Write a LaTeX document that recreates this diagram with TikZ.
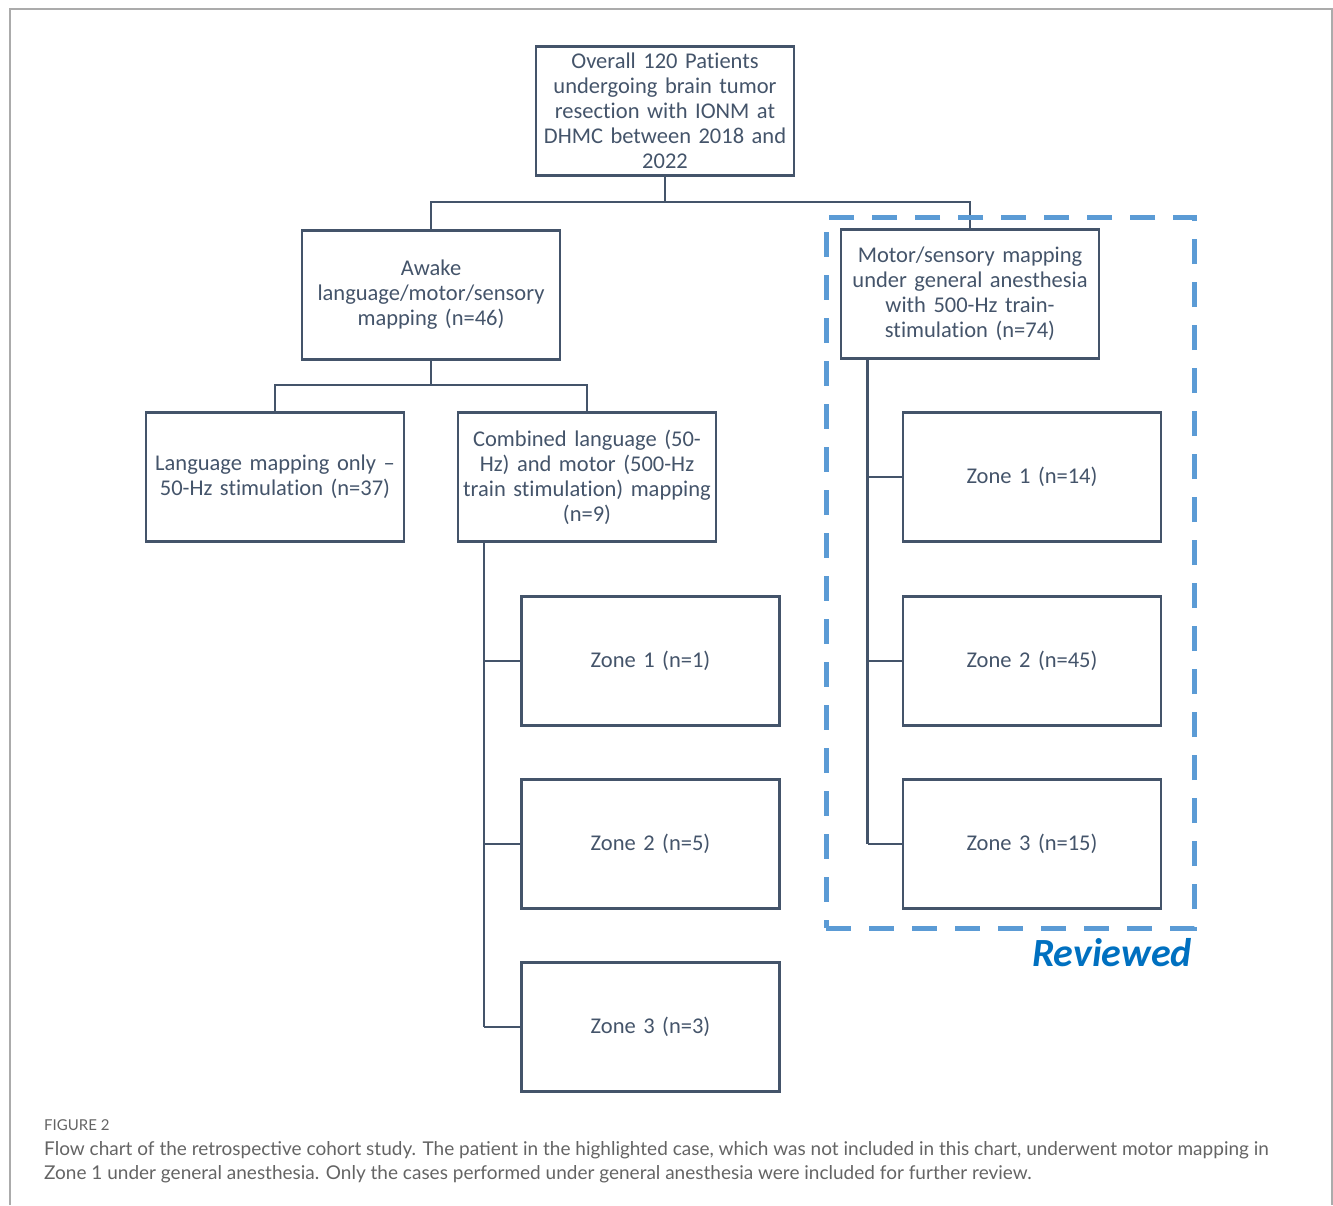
\documentclass[tikz,border=0pt]{standalone}
\usepackage{fontspec}
\setmainfont{Carlito}[Ligatures=NoCommon]
\newfontfamily\capfont{Lato}
\definecolor{linec}{HTML}{44546A}
\definecolor{dashc}{HTML}{5B9BD5}
\definecolor{revc}{HTML}{0070C0}
\definecolor{capc}{HTML}{646464}
\definecolor{framec}{HTML}{ABABAB}
\begin{document}
\begin{tikzpicture}[x=1pt,y=-1pt,
  box/.style={draw=linec,line width=2.6pt,rectangle,minimum width=258pt,minimum height=129pt,
    inner sep=0pt,text width=254pt,align=center,text=linec,
    font=\fontsize{22.5}{25}\selectfont},
  conn/.style={draw=linec,line width=2.6pt},
  captxt/.style={anchor=base west,inner sep=0pt,text=capc,font=\capfont\fontsize{19}{24}\selectfont}]
\useasboundingbox (0,0) rectangle (1333,1205);
% outer frame
\draw[framec,line width=1.5pt] (10,1205) -- (10,9) -- (1332,9) -- (1332,1205);
% boxes
\node[box] (top) at (665,111) {Overall 120 Patients\\undergoing brain tumor\\resection with IONM at\\DHMC between 2018 and\\2022};
\node[box] (awake) at (431,295) {Awake\\language/motor/sensory\\mapping (n=46)};
\node[box] (motor) at (970,294) {Motor/sensory mapping\\under general anesthesia\\with 500-Hz train-\\stimulation (n=74)};
\node[box] (lang) at (275,477) {Language mapping only --\\50-Hz stimulation (n=37)};
\node[box] (comb) at (587,477) {Combined language (50-\\Hz) and motor (500-Hz\\train stimulation) mapping\\(n=9)};
\node[box] (lz1) at (650.5,661) {Zone 1 (n=1)};
\node[box] (lz2) at (650.5,844) {Zone 2 (n=5)};
\node[box] (lz3) at (650.5,1027) {Zone 3 (n=3)};
\node[box] (rz1) at (1032,477) {Zone 1 (n=14)};
\node[box] (rz2) at (1032,661) {Zone 2 (n=45)};
\node[box] (rz3) at (1032,844) {Zone 3 (n=15)};
% connectors
\coordinate (j1) at (665,202);
\draw[conn] (top.south) -- (j1);
\draw[conn] (awake.north) |- (j1) -| (motor.north);
\coordinate (j2) at (431,385);
\draw[conn] (awake.south) -- (j2);
\draw[conn] (lang.north) |- (j2) -| (comb.north);
\coordinate (cl) at (484,542);
\coordinate (clb) at (484,1027);
\draw[conn] (cl) -- (clb);
\draw[conn] (484,661) -- (lz1.west);
\draw[conn] (484,844) -- (lz2.west);
\draw[conn] (clb) -- (lz3.west);
\coordinate (ml) at (867.5,358);
\coordinate (mlb) at (867.5,844);
\draw[conn] (ml) -- (mlb);
\draw[conn] (867.5,477) -- (rz1.west);
\draw[conn] (867.5,661) -- (rz2.west);
\draw[conn] (mlb) -- (rz3.west);
% dashed region
\node[draw=dashc,line width=5pt,dash pattern=on 25pt off 18pt,rectangle,inner sep=0pt,
  minimum width=368pt,minimum height=711pt] (rev) at (1010,572.5) {};
\node[anchor=base east,inner sep=0pt,text=revc,font=\fontsize{40}{44}\selectfont\bfseries\itshape] (revlab) at (1192,966) {Reviewed};
% caption
\node[captxt,font=\capfont\fontsize{15}{16}\selectfont] (fig) at (44,1130) {FIGURE 2};
\node[captxt] (cap1) at (44,1155) {Flow chart of the retrospective cohort study. The patient in the highlighted case, which was not included in this chart, underwent motor mapping in};
\node[captxt] (cap2) at (44,1179) {Zone 1 under general anesthesia. Only the cases performed under general anesthesia were included for further review.};
\end{tikzpicture}
\end{document}
